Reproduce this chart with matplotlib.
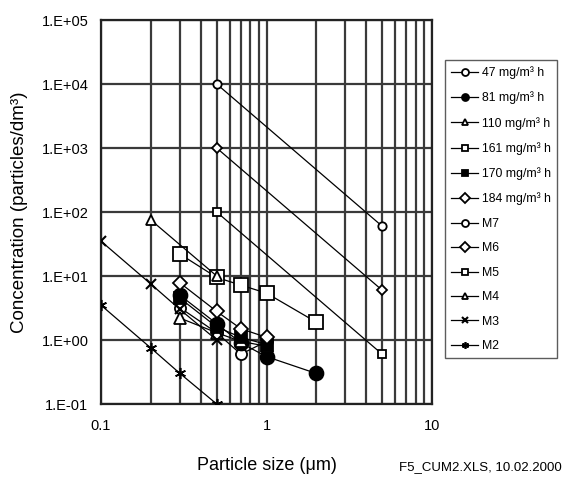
import matplotlib
matplotlib.use("Agg")
import matplotlib.pyplot as plt
from matplotlib.ticker import LogLocator, FixedLocator, NullFormatter

plt.rcParams['font.family'] = ['Liberation Sans', 'DejaVu Sans']

# data
x47 = [0.3, 0.5, 0.7, 1.0]; y47 = [3.2, 1.3, 0.6, 0.95]
x81 = [0.3, 0.5, 0.7, 1.0, 2.0]; y81 = [5.0, 1.8, 0.9, 0.55, 0.3]
x110 = [0.3, 0.5, 0.7, 1.0]; y110 = [2.2, 1.3, 0.95, 0.8]
x161 = [0.3, 0.5, 0.7, 1.0, 2.0]; y161 = [22, 9.5, 7.2, 5.4, 1.9]
x170 = [0.3, 0.5, 0.7, 1.0]; y170 = [4.5, 1.6, 1.1, 0.85]
x184 = [0.3, 0.5, 0.7, 1.0]; y184 = [7.8, 2.8, 1.5, 1.1]
xM7 = [0.5, 5.0]; yM7 = [10000, 60]
xM6 = [0.5, 5.0]; yM6 = [1000, 6]
xM5 = [0.5, 5.0]; yM5 = [100, 0.6]
xM4 = [0.2, 0.5]; yM4 = [75, 10]
xM3 = [0.1, 0.2, 0.3, 0.5]; yM3 = [35, 7.5, 3.0, 1.0]
xM2 = [0.1, 0.2, 0.3, 0.5]; yM2 = [3.5, 0.75, 0.3, 0.1]

labels = ['47 mg/m³ h', '81 mg/m³ h', '110 mg/m³ h', '161 mg/m³ h', '170 mg/m³ h',
          '184 mg/m³ h', 'M7', 'M6', 'M5', 'M4', 'M3', 'M2']
x_ticks = [0.1, 1, 10]
x_ticklabels = ['0.1', '1', '10']
y_ticks = [0.1, 1, 10, 100, 1e3, 1e4, 1e5]
y_ticklabels = ['1.E-01', '1.E+00', '1.E+01', '1.E+02', '1.E+03', '1.E+04', '1.E+05']

fig = plt.figure(figsize=(5.65, 4.9), dpi=100)
ax = fig.add_axes([101/565, 1-404/490, (432-101)/565, (404-20)/490])

series = [
    (x47, y47, dict(marker='o', ms=8, mfc='white')),
    (x81, y81, dict(marker='o', ms=10, mfc='black')),
    (x110, y110, dict(marker='^', ms=8, mfc='white')),
    (x161, y161, dict(marker='s', ms=10, mfc='white')),
    (x170, y170, dict(marker='s', ms=8, mfc='black')),
    (x184, y184, dict(marker='D', ms=7, mfc='white')),
    (xM7, yM7, dict(marker='o', ms=6, mfc='white')),
    (xM6, yM6, dict(marker='D', ms=5, mfc='white')),
    (xM5, yM5, dict(marker='s', ms=6, mfc='white')),
    (xM4, yM4, dict(marker='^', ms=7, mfc='white')),
    (xM3, yM3, dict(marker='x', ms=7, mew=1.5)),
    (xM2, yM2, dict(marker=(6, 2, 0), ms=8, mew=1.2)),
]
handles = []
for (xs, ys, kw), lab in zip(series, labels):
    kw.setdefault('mew', 1.3)
    h, = ax.plot(xs, ys, color='black', lw=0.9, mec='black', label=lab, zorder=3, **kw)
    handles.append(h)

ax.set_xscale('log'); ax.set_yscale('log')
ax.set_xlim(0.1, 10); ax.set_ylim(0.1, 1e5)
ax.set_xticks(x_ticks)
ax.set_xticklabels(x_ticklabels)
ax.xaxis.set_minor_locator(LogLocator(base=10, subs=range(2, 10)))
ax.xaxis.set_minor_formatter(NullFormatter())
ax.set_yticks(y_ticks)
ax.set_yticklabels(y_ticklabels)
ax.yaxis.set_minor_locator(FixedLocator([]))
ax.grid(True, which='major', color='#3a3a3a', lw=1.6)
ax.grid(True, which='minor', axis='x', color='#3a3a3a', lw=1.6)
ax.tick_params(which='both', length=0, labelsize=10.5)
ax.tick_params(axis='y', pad=9)
ax.tick_params(axis='x', pad=11)
for s in ax.spines.values():
    s.set_color('#222222'); s.set_linewidth(1.6)
ax.set_axisbelow(True)

ax.set_ylabel('Concentration (particles/dm³)', fontsize=13.5, labelpad=10)
ax.set_xlabel('Particle size (μm)', fontsize=13, labelpad=17)

leg = fig.legend(handles=handles, labels=labels, loc='upper left',
                 bbox_to_anchor=(445/565, 1-60/490), fontsize=8.8, frameon=True,
                 fancybox=False, edgecolor='#333333', handlelength=2.2,
                 labelspacing=1.02, borderpad=0.5, handletextpad=0.3,
                 borderaxespad=0)
leg.get_frame().set_linewidth(1.0)
for h in leg.legend_handles:
    h.set_markersize(5)

fig.text(480/565, 1-467/490, 'F5_CUM2.XLS, 10.02.2000', fontsize=9.5, ha='center', va='center')

fig.savefig('out.png', dpi=100)
